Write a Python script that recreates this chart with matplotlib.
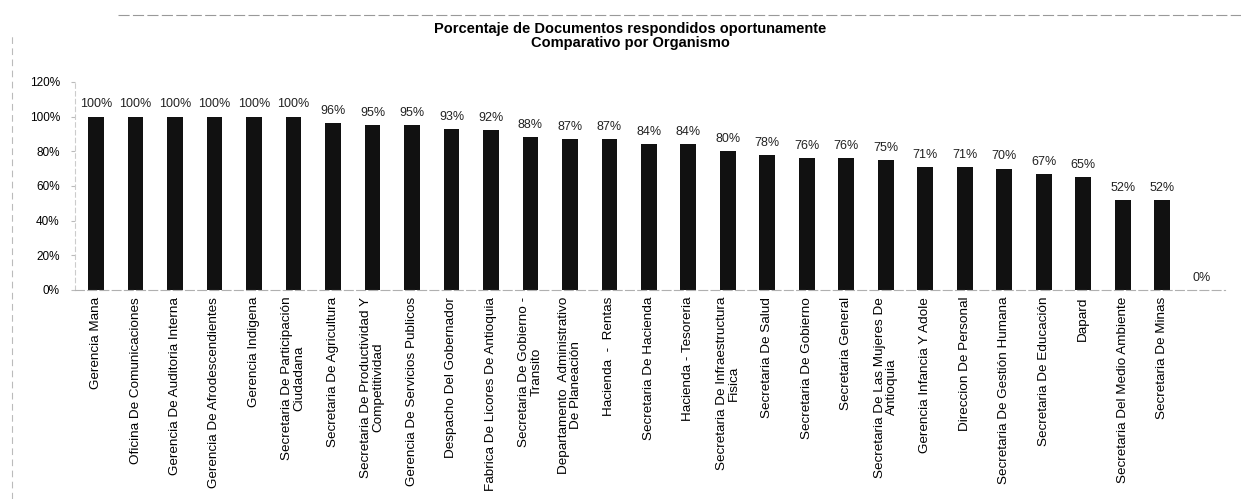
import matplotlib.pyplot as plt
import matplotlib.font_manager as fm

organismos = [
    'Gerencia Mana', 'Oficina De Comunicaciones', 'Gerencia De Auditoria Interna',
    'Gerencia De Afrodescendientes', 'Gerencia Indigena',
    'Secretaria De Participación\nCiudadana', 'Secretaria De Agricultura',
    'Secretaria De Productividad Y\nCompetitividad', 'Gerencia De Servicios Publicos',
    'Despacho Del Gobernador', 'Fabrica De Licores De Antioquia',
    'Secretaria De Gobierno -\nTransito', 'Departamento  Administrativo\nDe Planeación',
    'Hacienda  -  Rentas', 'Secretaria De Hacienda', 'Hacienda - Tesoreria',
    'Secretaria De Infraestructura\nFisica', 'Secretaria De Salud',
    'Secretaria De Gobierno', 'Secretaria General',
    'Secretaria De Las Mujeres De\nAntioquia', 'Gerencia Infancia Y Adole',
    'Direccion De Personal', 'Secretaria De Gestión Humana',
    'Secretaria De Educación', 'Dapard', 'Secretaria Del Medio Ambiente',
    'Secretaria De Minas', '',
]
porcentaje = [100, 100, 100, 100, 100, 100, 96, 95, 95, 93, 92, 88, 87, 87,
              84, 84, 80, 78, 76, 76, 75, 71, 71, 70, 67, 65, 52, 52, 0]

names = {f.name for f in fm.fontManager.ttflist}
fam = 'Liberation Sans Narrow' if 'Liberation Sans Narrow' in names else 'Liberation Sans'
plt.rcParams['font.family'] = [fam, 'DejaVu Sans']

fig = plt.figure(figsize=(12.41, 4.99), dpi=100)
ax = fig.add_axes([0.0605, 0.419, 0.927, 0.417])

x = range(len(organismos))
vals = [p / 100 for p in porcentaje]
ax.bar(x, vals, width=0.4, color='#111111')
for xi, v in zip(x, vals):
    ax.text(xi, v + 0.035, f'{int(round(v * 100))}%', ha='center', va='bottom',
            fontsize=9, color='#222222')

ax.set_xlim(-0.53, 28.6)
ax.set_ylim(0, 1.2)
ax.set_yticks([0, 0.2, 0.4, 0.6, 0.8, 1.0, 1.2])
ax.set_yticklabels(['0%', '20%', '40%', '60%', '80%', '100%', '120%'], fontsize=8.5)
ax.set_xticks(list(x))
ax.set_xticklabels(organismos, rotation=90, fontsize=9.7, ha='center', va='top',
                   multialignment='center', linespacing=1.0)
ax.tick_params(axis='x', length=0, pad=5)
ax.tick_params(axis='y', length=3, color='#bbbbbb', pad=8)
for s in ['top', 'right']:
    ax.spines[s].set_visible(False)
ax.spines['left'].set_color('#cccccc')
ax.spines['left'].set_linestyle((0, (4, 3)))
ax.spines['bottom'].set_color('#b0b0b0')
ax.spines['bottom'].set_linestyle((0, (8, 3)))

fig.text(0.508, 0.928, 'Porcentaje de Documentos respondidos oportunamente\nComparativo por Organismo',
         ha='center', va='center', fontsize=10.5, fontweight='bold', linespacing=1.0)

# marcos del escaneo
fig.add_artist(plt.Line2D([0.095, 1.0], [0.97, 0.97], color='#999999', lw=0.8,
                          ls=(0, (10, 3))))
fig.add_artist(plt.Line2D([0.01, 0.01], [0.0, 0.93], color='#bbbbbb', lw=0.8,
                          ls=(0, (6, 4))))

fig.savefig('out.png', dpi=100)
